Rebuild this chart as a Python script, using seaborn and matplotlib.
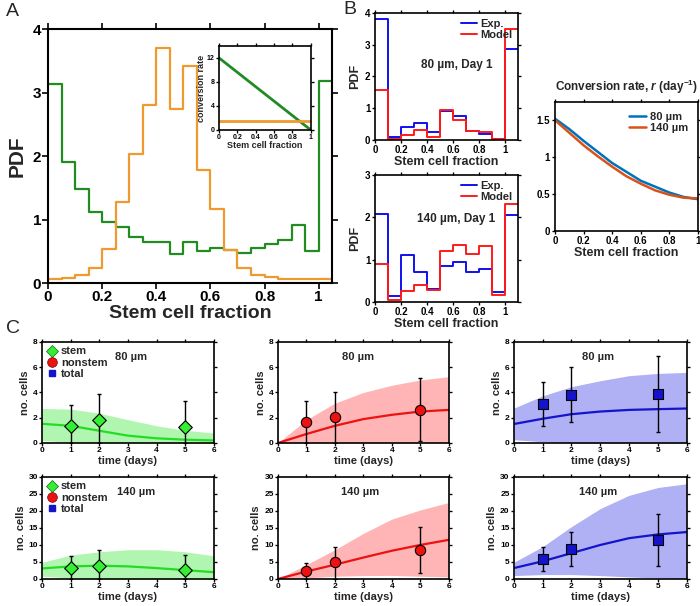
import numpy as np
import pandas as pd
import seaborn as sns
import matplotlib.pyplot as plt
from matplotlib.lines import Line2D

sns.set_theme(style="white")
plt.rcParams["font.family"] = ["Liberation Sans", "DejaVu Sans"]
plt.rcParams["font.weight"] = "bold"
plt.rcParams["axes.labelweight"] = "bold"
plt.rcParams["axes.titleweight"] = "bold"
plt.rcParams["mathtext.fontset"] = "custom"
plt.rcParams["mathtext.rm"] = "Liberation Sans:bold"
plt.rcParams["mathtext.it"] = "Liberation Sans:italic:bold"
plt.rcParams["mathtext.bf"] = "Liberation Sans:bold"

# ---------------- data ----------------
# Panel A histograms (bin width 0.05, 0 .. 1.05)
A_EDGES = [0.0, 0.05, 0.1, 0.15, 0.2, 0.25, 0.3, 0.35, 0.4, 0.45, 0.5, 0.55,
           0.6, 0.65, 0.7, 0.75, 0.8, 0.85, 0.9, 0.95, 1.0, 1.05]
A_GREEN = [3.13, 1.91, 1.48, 1.12, 0.96, 0.89, 0.73, 0.64, 0.65, 0.45, 0.65,
           0.50, 0.55, 0.52, 0.48, 0.55, 0.62, 0.68, 0.92, 0.50, 3.18]
A_ORANGE = [0.06, 0.08, 0.12, 0.24, 0.54, 1.27, 2.04, 2.81, 3.70, 2.74, 3.42,
            1.78, 1.17, 0.52, 0.24, 0.13, 0.09, 0.07, 0.07, 0.07, 0.07]
A_XTICKS = [0, 0.2, 0.4, 0.6, 0.8, 1]
A_XTICKLABELS = ["0", "0.2", "0.4", "0.6", "0.8", "1"]

# Inset conversion rate
INSET_X = [0, 1]
INSET_GREEN = [12, 0]
INSET_ORANGE = [1.5, 1.5]

# Panel B histograms (bin width 0.1, 0 .. 1.1)
B_EDGES = [0.0, 0.1, 0.2, 0.3, 0.4, 0.5, 0.6, 0.7, 0.8, 0.9, 1.0, 1.1]
B80_EXP = [3.81, 0.10, 0.40, 0.55, 0.24, 0.92, 0.77, 0.29, 0.19, 0.02, 2.88]
B80_MOD = [1.56, 0.04, 0.16, 0.32, 0.08, 0.93, 0.63, 0.29, 0.25, 0.02, 3.49]
B140_EXP = [2.07, 0.13, 1.12, 0.71, 0.31, 0.86, 0.94, 0.70, 0.78, 0.24, 2.05]
B140_MOD = [0.90, 0.05, 0.27, 0.41, 0.29, 1.21, 1.35, 1.14, 1.33, 0.16, 2.31]

# Conversion rate curves
CR_X = [0, 0.1, 0.2, 0.3, 0.4, 0.5, 0.6, 0.7, 0.8, 0.9, 1.0]
CR_80 = [1.52, 1.38, 1.22, 1.07, 0.92, 0.80, 0.68, 0.60, 0.52, 0.46, 0.43]
CR_140 = [1.50, 1.33, 1.16, 1.01, 0.87, 0.74, 0.64, 0.55, 0.49, 0.45, 0.44]

# Panel C time courses
C_T = [0, 1, 2, 3, 4, 5, 6]
STEM80_MODEL = [1.52, 1.36, 0.97, 0.58, 0.37, 0.26, 0.20]
STEM80_UP = [2.73, 2.68, 2.36, 1.84, 1.36, 1.00, 0.79]
STEM80_LO = [0.20, 0.05, 0, 0, 0, 0, 0]
NON80_MODEL = [0, 0.71, 1.36, 1.89, 2.23, 2.49, 2.62]
NON80_UP = [0, 1.84, 3.15, 4.00, 4.57, 4.99, 5.25]
NON80_LO = [0, 0, 0, 0, 0, 0, 0]
TOT80_MODEL = [1.50, 1.92, 2.28, 2.49, 2.62, 2.68, 2.73]
TOT80_UP = [2.76, 3.73, 4.46, 4.93, 5.33, 5.51, 5.59]
TOT80_LO = [0.26, 0.10, 0, 0, 0, 0, 0]
STEM140_MODEL = [3.1, 3.7, 3.9, 3.7, 3.2, 2.6, 2.0]
STEM140_UP = [4.9, 7.0, 8.0, 8.6, 8.6, 8.0, 6.8]
STEM140_LO = [0.8, 0.3, 0, 0, 0, 0, 0]
NON140_MODEL = [0, 2.2, 4.2, 6.3, 8.3, 10.0, 11.5]
NON140_UP = [0, 4.2, 8.6, 13.4, 17.6, 20.3, 22.5]
NON140_LO = [0, 0.3, 0.8, 1.0, 1.05, 0.8, 0.6]
TOT140_MODEL = [3.2, 5.2, 7.6, 10.0, 12.0, 13.1, 13.8]
TOT140_UP = [4.9, 9.5, 15.4, 20.7, 24.6, 26.9, 28.0]
TOT140_LO = [1.0, 1.3, 1.3, 1.0, 0.6, 0.3, 0.1]

EXP_T = [1, 2, 5]
STEM80_PTS = [1.36, 1.84, 1.29]
STEM80_ELO = [0, 0, 0]
STEM80_EHI = [3.02, 3.88, 3.33]
NON80_PTS = [1.68, 2.05, 2.60]
NON80_ELO = [0, 0, 0.13]
NON80_EHI = [3.33, 4.07, 5.12]
TOT80_PTS = [3.10, 3.83, 3.88]
TOT80_ELO = [1.31, 1.68, 0.89]
TOT80_EHI = [4.86, 5.98, 6.88]
STEM140_PTS = [3.2, 3.8, 2.6]
STEM140_ELO = [0, 0, 0]
STEM140_EHI = [6.9, 8.6, 7.1]
NON140_PTS = [2.2, 4.9, 8.6]
NON140_ELO = [0, 0, 1.75]
NON140_EHI = [4.7, 9.3, 15.4]
TOT140_PTS = [5.8, 8.8, 11.5]
TOT140_ELO = [2.2, 3.7, 3.7]
TOT140_EHI = [9.5, 13.7, 19.0]

# ---------------- helpers ----------------
def style(ax, lw=1.2, ticklen=3, labelsize=7):
    ax.grid(False)
    ax.set_facecolor("white")
    for s in ax.spines.values():
        s.set_visible(True)
        s.set_color("black")
        s.set_linewidth(lw)
    ax.tick_params(direction="out", length=ticklen, width=lw * 0.8,
                   top=True, right=True, bottom=True, left=True,
                   labeltop=False, labelright=False,
                   labelsize=labelsize, pad=1, colors="black")


def step_hist(ax, edges, values, color, lw):
    df = pd.DataFrame({"x": list(edges), "y": list(values) + [values[-1]]})
    sns.lineplot(data=df, x="x", y="y", drawstyle="steps-post", color=color,
                 linewidth=lw, ax=ax)


fig = plt.figure(figsize=(7, 6.06), dpi=100)

# ---------------- Panel A ----------------
GREEN_A = "#228B22"
ORANGE_A = "#EE9A2E"
axA = fig.add_axes([0.0686, 0.533, 0.406, 0.419])
step_hist(axA, A_EDGES, A_GREEN, GREEN_A, 1.6)
step_hist(axA, A_EDGES, A_ORANGE, ORANGE_A, 1.6)
axA.set_xlim(0, 1.05)
axA.set_ylim(0, 4)
axA.set_xticks(A_XTICKS)
axA.set_xticklabels(A_XTICKLABELS)
axA.set_yticks([0, 1, 2, 3, 4])
style(axA, lw=1.5, ticklen=4, labelsize=11)
axA.set_xlabel("Stem cell fraction", fontsize=14, labelpad=1)
axA.set_ylabel("PDF", fontsize=15, labelpad=4)

axIn = fig.add_axes([0.313, 0.7855, 0.131, 0.1386])
sns.lineplot(x=INSET_X, y=INSET_GREEN, color=GREEN_A, linewidth=2, ax=axIn)
sns.lineplot(x=INSET_X, y=INSET_ORANGE, color=ORANGE_A, linewidth=2, ax=axIn)
axIn.set_xlim(0, 1)
axIn.set_ylim(0, 14)
axIn.set_yticks([0, 4, 8, 12])
axIn.set_xticks([0, 0.2, 0.4, 0.6, 0.8, 1])
axIn.set_xticklabels(["0", "0.2", "0.4", "0.6", "0.8", "1"])
style(axIn, lw=1.2, ticklen=2, labelsize=5)
axIn.set_xlabel("Stem cell fraction", fontsize=6.5, labelpad=0)
axIn.set_ylabel("conversion rate", fontsize=6.5, labelpad=1)

# ---------------- Panel B ----------------
BLUE_B = "#1010EE"
RED_B = "#FF1A1A"
B_XT = [0, 0.2, 0.4, 0.6, 0.8, 1]
B_XTL = ["0", "0.2", "0.4", "0.6", "0.8", "1"]

for rect, exp, mod, ymax, label, ty in [
        ([0.536, 0.769, 0.204, 0.2096], B80_EXP, B80_MOD, 4, "80 µm, Day 1", 0.59),
        ([0.536, 0.5017, 0.204, 0.2096], B140_EXP, B140_MOD, 3, "140 µm, Day 1", 0.65)]:
    ax = fig.add_axes(rect)
    step_hist(ax, B_EDGES, exp, BLUE_B, 1.4)
    step_hist(ax, B_EDGES, mod, RED_B, 1.4)
    ax.set_xlim(0, 1.1)
    ax.set_ylim(0, ymax)
    ax.set_xticks(B_XT)
    ax.set_xticklabels(B_XTL)
    ax.set_yticks(list(range(0, ymax + 1)))
    style(ax, lw=1.2, ticklen=2.5, labelsize=7)
    ax.set_xlabel("Stem cell fraction", fontsize=9, labelpad=1)
    ax.set_ylabel("PDF", fontsize=9, labelpad=3)
    ax.text(0.57, ty, label, transform=ax.transAxes, ha="center",
            va="center", fontsize=8.5, fontweight="bold")
    handles = [Line2D([], [], color=BLUE_B, lw=1.4),
               Line2D([], [], color=RED_B, lw=1.4)]
    ax.legend(handles, ["Exp.", "Model"], loc="upper right", frameon=False,
              fontsize=8, handlelength=1.4, handletextpad=0.3,
              labelspacing=0.1, borderaxespad=0.4, borderpad=0.1)

axR = fig.add_axes([0.793, 0.619, 0.204, 0.2129])
sns.lineplot(x=CR_X, y=CR_80, color="#0072BD", linewidth=1.8, ax=axR)
sns.lineplot(x=CR_X, y=CR_140, color="#D95319", linewidth=1.8, ax=axR)
axR.set_xlim(0, 1)
axR.set_ylim(0, 1.75)
axR.set_yticks([0, 0.5, 1, 1.5])
axR.set_yticklabels(["0", "0.5", "1", "1.5"])
axR.set_xticks([0, 0.2, 0.4, 0.6, 0.8, 1])
axR.set_xticklabels(["0", "0.2", "0.4", "0.6", "0.8", "1"])
style(axR, lw=1.2, ticklen=2.5, labelsize=7)
axR.set_xlabel("Stem cell fraction", fontsize=9, labelpad=1)
axR.set_title(r"Conversion rate, $r$ (day$^{-1}$)", fontsize=8.5, pad=8)
hR = [Line2D([], [], color="#0072BD", lw=1.8),
      Line2D([], [], color="#D95319", lw=1.8)]
axR.legend(hR, ["80 µm", "140 µm"], loc="upper right", frameon=False,
           fontsize=8, handlelength=1.6, handletextpad=0.3,
           labelspacing=0.1, borderaxespad=0.5)

# ---------------- Panel C ----------------
C_COLS = [0.06, 0.397, 0.734]
C_WIDTHS = [0.2457, 0.244, 0.247]
C_ROWS = [(0.269, 0.1667), (0.0446, 0.1683)]

series = [
    [("stem", STEM80_MODEL, STEM80_UP, STEM80_LO, STEM80_PTS, STEM80_ELO, STEM80_EHI),
     ("nonstem", NON80_MODEL, NON80_UP, NON80_LO, NON80_PTS, NON80_ELO, NON80_EHI),
     ("total", TOT80_MODEL, TOT80_UP, TOT80_LO, TOT80_PTS, TOT80_ELO, TOT80_EHI)],
    [("stem", STEM140_MODEL, STEM140_UP, STEM140_LO, STEM140_PTS, STEM140_ELO, STEM140_EHI),
     ("nonstem", NON140_MODEL, NON140_UP, NON140_LO, NON140_PTS, NON140_ELO, NON140_EHI),
     ("total", TOT140_MODEL, TOT140_UP, TOT140_LO, TOT140_PTS, TOT140_ELO, TOT140_EHI)],
]
KIND = {
    "stem": dict(band="#B0F5B0", line="#22DD22", mk="D", mc="#33EE33", s=48),
    "nonstem": dict(band="#FFB5B5", line="#EE1111", mk="o", mc="#EE1111", s=55),
    "total": dict(band="#B0B0F5", line="#1414CC", mk="s", mc="#1414CC", s=48),
}
ROW_LABEL = ["80 µm", "140 µm"]
LABEL_X = [[0.52, 0.47, 0.49], [0.545, 0.48, 0.49]]
ROW_YMAX = [8, 30]
ROW_YT = [[0, 2, 4, 6, 8], [0, 5, 10, 15, 20, 25, 30]]

for r, (bottom, height) in enumerate(C_ROWS):
    for c in range(3):
        ax = fig.add_axes([C_COLS[c], bottom, C_WIDTHS[c], height])
        name, model, up, lo, pts, elo, ehi = series[r][c]
        k = KIND[name]
        ax.fill_between(C_T, lo, up, color=k["band"], linewidth=0, zorder=1)
        sns.lineplot(x=C_T, y=model, color=k["line"], linewidth=1.6, ax=ax,
                     zorder=2)
        yerr = [np.array(pts) - np.array(elo), np.array(ehi) - np.array(pts)]
        ax.errorbar(EXP_T, pts, yerr=yerr, fmt="none", ecolor="black",
                    elinewidth=1.0, capsize=1.5, capthick=1.0, zorder=3)
        sns.scatterplot(x=EXP_T, y=pts, marker=k["mk"], s=k["s"],
                        color=k["mc"], edgecolor="black", linewidth=0.8,
                        zorder=5, ax=ax)
        ax.set_xlim(0, 6)
        ax.set_ylim(0, ROW_YMAX[r])
        ax.set_xticks(C_T)
        ax.set_yticks(ROW_YT[r])
        style(ax, lw=1.2, ticklen=2, labelsize=6)
        ax.set_xlabel("time (days)", fontsize=8, labelpad=1)
        ax.set_ylabel("no. cells", fontsize=8, labelpad=2)
        ax.text(LABEL_X[r][c], 0.85, ROW_LABEL[r], transform=ax.transAxes,
                ha="center", va="center", fontsize=8, fontweight="bold")
        if c == 0:
            hl = [Line2D([], [], marker="D", color="#33EE33", linestyle="none",
                         markersize=6, markeredgecolor="#116611", markeredgewidth=0.5),
                  Line2D([], [], marker="o", color="#EE1111", linestyle="none",
                         markersize=7, markeredgecolor="#661111", markeredgewidth=0.5),
                  Line2D([], [], marker="s", color="#1414CC", linestyle="none",
                         markersize=5)]
            ax.legend(hl, ["stem", "nonstem", "total"], loc="upper left",
                      frameon=False, fontsize=8, handlelength=1.0,
                      handletextpad=0.3, labelspacing=0.1,
                      borderaxespad=0.3, borderpad=0.1)

# panel letters
fig.text(0.008, 0.995, "A", fontsize=14, fontweight="normal", va="top")
fig.text(0.491, 0.998, "B", fontsize=14, fontweight="normal", va="top")
fig.text(0.008, 0.472, "C", fontsize=14, fontweight="normal", va="top")

fig.savefig("out.png", dpi=100, facecolor="white")
